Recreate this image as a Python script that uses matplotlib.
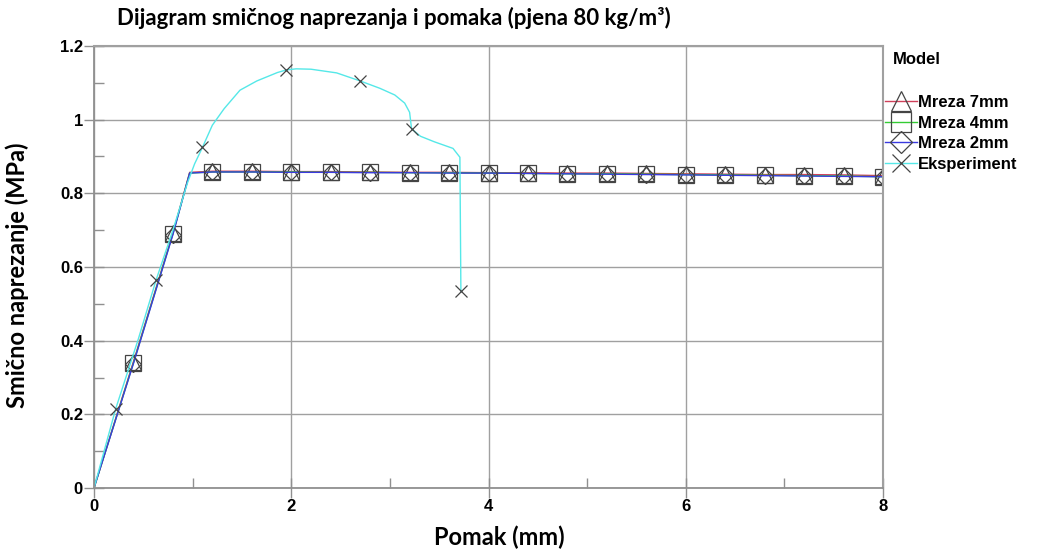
import matplotlib
matplotlib.use("Agg")
import matplotlib.pyplot as plt
from matplotlib.ticker import MultipleLocator
from matplotlib.lines import Line2D

# ---------------- data ----------------
title = "Dijagram smičnog naprezanja i pomaka (pjena 80 kg/m³)"
xlabel = "Pomak (mm)"
ylabel = "Smično naprezanje (MPa)"
legend_title = "Model"

x_model = [0, 0.4, 0.8, 0.97, 1.2, 1.6, 2.0, 2.4, 2.8, 3.2, 3.6, 4.0, 4.4, 4.8,
           5.2, 5.6, 6.0, 6.4, 6.8, 7.2, 7.6, 8.0]
y_7mm = [0, 0.343, 0.692, 0.857, 0.860, 0.860, 0.859, 0.859, 0.858, 0.857, 0.857,
         0.856, 0.856, 0.855, 0.855, 0.854, 0.853, 0.852, 0.851, 0.851, 0.850, 0.848]
y_4mm = [0, 0.340, 0.690, 0.855, 0.858, 0.858, 0.858, 0.857, 0.857, 0.856, 0.856,
         0.855, 0.854, 0.853, 0.853, 0.852, 0.851, 0.850, 0.849, 0.848, 0.847, 0.845]
y_2mm = [0, 0.338, 0.688, 0.855, 0.858, 0.858, 0.857, 0.857, 0.856, 0.856, 0.855,
         0.855, 0.854, 0.853, 0.852, 0.851, 0.850, 0.849, 0.848, 0.847, 0.846, 0.845]
model_marker_idx = list(range(1, 3)) + list(range(4, 22))

x_exp = [0, 0.22, 0.45, 0.63, 0.8, 0.95, 1.02, 1.1, 1.2, 1.32, 1.48, 1.65, 1.86,
         1.95, 2.05, 2.2, 2.46, 2.7, 2.9, 3.05, 3.15, 3.2, 3.22, 3.31, 3.45, 3.64,
         3.71, 3.72]
y_exp = [0, 0.215, 0.405, 0.565, 0.70, 0.83, 0.88, 0.925, 0.985, 1.03, 1.08, 1.105,
         1.128, 1.135, 1.138, 1.137, 1.127, 1.105, 1.085, 1.067, 1.045, 1.02, 0.975,
         0.955, 0.94, 0.922, 0.898, 0.535]
exp_marker_idx = [1, 3, 7, 13, 17, 22, 27]

series_names = ["Mreza 7mm", "Mreza 4mm", "Mreza 2mm", "Eksperiment"]

# ---------------- plot ----------------
fig = plt.figure(figsize=(10.59, 5.56), dpi=100)
ax = fig.add_axes([94/1059, 1-488/556, (883-94)/1059, (488-46)/556])

mk_col = "#444444"
common = dict(markerfacecolor="none", markeredgecolor=mk_col, markeredgewidth=0.9,
              linewidth=1.0)
ax.plot(x_model, y_7mm, color="#d0405a", marker="^", markersize=11,
        markevery=model_marker_idx, **common)
ax.plot(x_model, y_4mm, color="#33cc33", marker="s", markersize=11,
        markevery=model_marker_idx, **common)
ax.plot(x_model, y_2mm, color="#3a3adf", marker="D", markersize=8,
        markevery=model_marker_idx, **common)
ax.plot(x_exp, y_exp, color="#55e8e8", marker="x", markersize=9,
        markevery=exp_marker_idx, **common)

ax.set_xlim(0, 8)
ax.set_ylim(0, 1.2)
ax.xaxis.set_minor_locator(MultipleLocator(1))
ax.yaxis.set_minor_locator(MultipleLocator(0.1))
ax.set_xticks([0, 2, 4, 6, 8])
ax.set_xticklabels(["0", "2", "4", "6", "8"])
ax.set_yticks([0, 0.2, 0.4, 0.6, 0.8, 1.0, 1.2])
ax.set_yticklabels(["0", "0.2", "0.4", "0.6", "0.8", "1", "1.2"])
ax.grid(True, which="major", color="#a0a0a0", linewidth=1.0)
ax.tick_params(which="major", direction="inout", length=14, width=1, color="#909090",
               labelsize=12, pad=1)
ax.tick_params(which="minor", direction="in", length=7, width=1, color="#909090")
for lab in ax.get_xticklabels() + ax.get_yticklabels():
    lab.set_fontweight("bold")
    lab.set_family("Liberation Sans")
for side in ["left", "bottom"]:
    ax.spines[side].set_color("#909090")
    ax.spines[side].set_linewidth(1.3)
for side in ["top", "right"]:
    ax.spines[side].set_color("#a0a0a0")
    ax.spines[side].set_linewidth(1.5)

fig.text(117/1059, 1-18/556, title, fontsize=16, fontweight="bold",
         family="Lato", ha="left", va="center")
fig.text(499/1059, 1-537/556, xlabel, fontsize=17, fontweight="bold",
         family="Lato", ha="center", va="center")
fig.text(17/1059, 1-275/556, ylabel, fontsize=17, fontweight="bold",
         family="Lato", ha="center", va="center", rotation=90)

fig.text(893/1059, 1-60/556, legend_title, fontsize=12, fontweight="bold",
         family="Liberation Sans", ha="left", va="center")

handles = [
    Line2D([], [], color="#d0405a", marker="^", markersize=15, **common),
    Line2D([], [], color="#33cc33", marker="s", markersize=15, **common),
    Line2D([], [], color="#3a3adf", marker="D", markersize=11, **common),
    Line2D([], [], color="#55e8e8", marker="x", markersize=13, **common),
]
leg = fig.legend(handles, series_names, loc="upper left",
                 bbox_to_anchor=(885/1059, 1-95/556), frameon=False,
                 handlelength=1.9, handletextpad=0.1, labelspacing=0.33,
                 borderaxespad=0, borderpad=0,
                 prop={"family": "Liberation Sans", "weight": "bold", "size": 12})

fig.savefig("out.png", dpi=100)
